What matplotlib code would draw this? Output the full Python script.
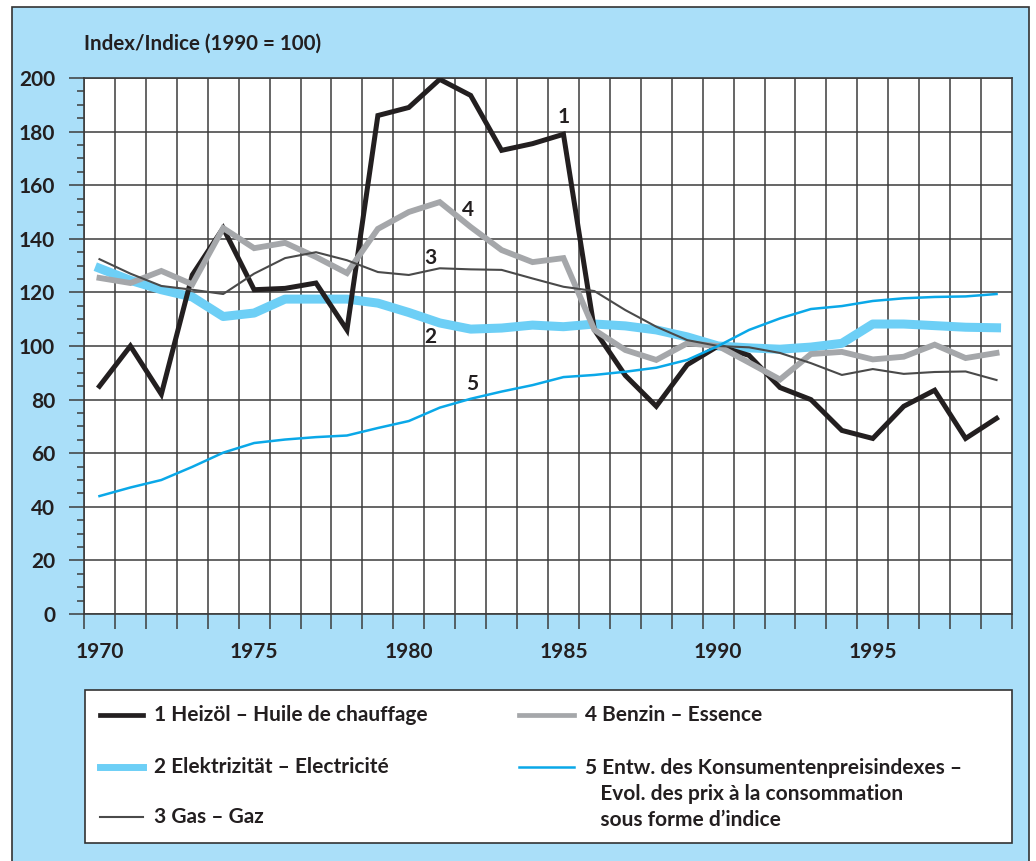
import matplotlib
matplotlib.use("Agg")
import matplotlib.pyplot as plt
from matplotlib.lines import Line2D
from matplotlib.patches import Rectangle
from matplotlib.ticker import MultipleLocator, FixedLocator

plt.rcParams['font.family'] = ['Lato', 'Liberation Sans', 'DejaVu Sans']
plt.rcParams['font.weight'] = 'bold'

years = list(range(1970, 2000))

heizoel = [85, 100, 82, 126.5, 144, 121, 121.5, 123.5, 106, 186,
           189, 199.5, 193.5, 173, 175.5, 179, 106, 89, 77.5, 93,
           100, 96.5, 84.5, 80, 68.5, 65.5, 77.5, 83.5, 65.5, 73]
elektrizitaet = [129, 124.5, 121, 118.3, 111, 112.3, 117.5, 117.5, 117.5, 116,
                 112.5, 108.6, 106.3, 106.7, 107.8, 107.2, 108.2, 107.5, 106, 103.4,
                 100, 99.3, 98.8, 99.6, 101, 108.2, 108.2, 107.6, 107, 106.8]
gas = [132.4, 127, 122.4, 121, 119.4, 127, 132.8, 135, 132, 127.6,
       126.5, 129, 128.6, 128.4, 125.2, 122.1, 120.5, 113.4, 107.2, 102.2,
       100, 99.5, 97.4, 93.6, 89.2, 91.4, 89.6, 90.3, 90.5, 87.3]
benzin = [125.4, 123.5, 128, 123, 144, 136.5, 138.5, 133.2, 127.2, 143.7,
          150, 153.7, 144.4, 135.8, 131.3, 132.8, 106, 98.5, 94.8, 101,
          100, 93.8, 87.5, 97, 97.8, 95, 96, 100.5, 95.5, 97.4]
kpi = [44, 47.2, 50, 54.9, 60.2, 63.8, 65.1, 66, 66.6, 69.4,
       72, 77, 80.3, 83, 85.4, 88.4, 89.2, 90.4, 91.9, 94.8,
       100, 106, 110.3, 113.8, 114.9, 116.8, 117.8, 118.3, 118.5, 119.4]

series_labels = ["1 Heizöl – Huile de chauffage",
                 "2 Elektrizität – Electricité",
                 "3 Gas – Gaz",
                 "4 Benzin – Essence",
                 "5 Entw. des Konsumentenpreisindexes –\n   Evol. des prix à la consommation\n   sous forme d’indice"]
title_text = "Index/Indice (1990 = 100)"
xtick_years = [1970, 1975, 1980, 1985, 1990, 1995]
yticks = list(range(0, 201, 20))

BG = '#aadff9'
C_HEIZ = '#231f20'
C_ELEK = '#6dcff6'
C_GAS = '#4a4a4a'
C_BENZ = '#a5a7aa'
C_KPI = '#0aa8e8'
TXT = '#231f20'
GRID = '#3c3c3c'

W, H = 1036, 861
PX = 72 / 100  # points per pixel
fig = plt.figure(figsize=(W / 100, H / 100), dpi=100)
fig.patch.set_facecolor('white')

# outer light-blue panel with frame
panel = Rectangle((12 / W, -0.05), (1029 - 12) / W, 1 - 7 / H + 0.05,
                  transform=fig.transFigure, facecolor=BG,
                  edgecolor='#333333', linewidth=1.2, zorder=-10)
fig.patches.append(panel)

ax = fig.add_axes([84 / W, 1 - 614 / H, (1012 - 84) / W, (614 - 78) / H])
ax.set_zorder(5)
ax.set_facecolor('white')
ax.set_xlim(1969.5, 1999.5)
ax.set_ylim(0, 200)

# grid
for yv in yticks:
    ax.axhline(yv, color=GRID, lw=1.1, zorder=1)
for xv in range(1970, 2000):
    ax.axvline(xv - 0.5, color=GRID, lw=1.1, zorder=1)

ax.plot(years, elektrizitaet, color=C_ELEK, lw=6.5, zorder=3, solid_joinstyle='round')
ax.plot(years, heizoel, color=C_HEIZ, lw=3.6, zorder=4, solid_joinstyle='miter')
ax.plot(years, benzin, color=C_BENZ, lw=4.2, zorder=5, solid_joinstyle='miter')
ax.plot(years, gas, color=C_GAS, lw=1.5, zorder=6)
ax.plot(years, kpi, color=C_KPI, lw=1.8, zorder=7)

lab_kw = dict(fontsize=15, fontweight='bold', color=TXT, ha='center', va='center', zorder=8)
ax.text(1985.0, 185.5, "1", **lab_kw)
ax.text(1981.9, 150.7, "4", **lab_kw)
ax.text(1980.7, 133.0, "3", **lab_kw)
ax.text(1980.7, 103.2, "2", **lab_kw)
ax.text(1982.05, 86.0, "5", **lab_kw)

for s in ax.spines.values():
    s.set_color(GRID)
    s.set_linewidth(1.2)

ax.yaxis.set_major_locator(FixedLocator(yticks))
ax.yaxis.set_minor_locator(MultipleLocator(5))
ax.tick_params(axis='y', which='major', direction='out', length=15 * PX, width=1.1,
               color=GRID, labelsize=15, pad=14 * PX, labelcolor=TXT)
ax.tick_params(axis='y', which='minor', direction='out', length=7 * PX, width=1.1, color=GRID)

ax.xaxis.set_major_locator(FixedLocator(xtick_years))
ax.xaxis.set_minor_locator(FixedLocator([y - 0.5 for y in range(1970, 2001)]))
ax.tick_params(axis='x', which='major', length=0, labelsize=15, pad=28 * PX, labelcolor=TXT)
ax.tick_params(axis='x', which='minor', direction='out', length=15 * PX, width=1.1, color=GRID)
for lab in ax.get_xticklabels() + ax.get_yticklabels():
    lab.set_fontweight('bold')

fig.text(84 / W, 1 - 44 / H, title_text, fontsize=14.8, fontweight='bold',
         color=TXT, ha='left', va='center')

# legend box
fig.patches.append(Rectangle((85 / W, 1 - 843 / H), (1012 - 85) / W, (843 - 690) / H,
                             transform=fig.transFigure, facecolor='white',
                             edgecolor='#333333', linewidth=1.2, zorder=1))
entries = [
    (100, 143, 715, C_HEIZ, 3.4, series_labels[0]),
    (100, 143, 767, C_ELEK, 5.0, series_labels[1]),
    (100, 143, 817, C_GAS, 1.5, series_labels[2]),
    (519, 574, 715, C_BENZ, 3.4, series_labels[3]),
    (519, 574, 767, C_KPI, 1.8, series_labels[4]),
]
for x0, x1, yy, col, lw, txt in entries:
    fig.lines.append(Line2D([x0 / W, x1 / W], [1 - yy / H, 1 - yy / H],
                            transform=fig.transFigure, color=col, lw=lw, zorder=2))
    if '\n' in txt:
        fig.text((x1 + 11) / W, 1 - (yy - 9) / H, txt, fontsize=15, fontweight='bold',
                 color=TXT, ha='left', va='top', linespacing=1.38, zorder=3)
    else:
        fig.text((x1 + 11) / W, 1 - yy / H, txt, fontsize=15, fontweight='bold',
                 color=TXT, ha='left', va='center', zorder=3)

fig.savefig('out.png', dpi=100, facecolor=fig.get_facecolor())
